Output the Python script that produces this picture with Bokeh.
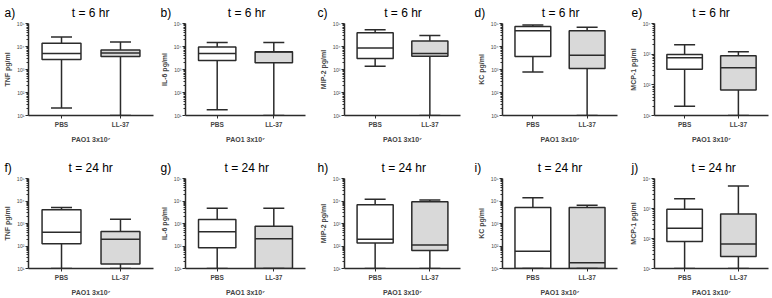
from bokeh.plotting import figure
from bokeh.models import FactorRange, Range1d, FixedTicker, ColumnDataSource
from bokeh.transform import dodge
from bokeh.layouts import row, column
from bokeh.embed import file_html
from bokeh.resources import INLINE

# ---------------- data (pg/ml) ----------------
groups = ["PBS", "LL-37"]
panel_letters = ["a)", "b)", "c)", "d)", "e)", "f)", "g)", "h)", "i)", "j)"]
time_titles = ["t = 6 hr"] * 5 + ["t = 24 hr"] * 5
cytokines = ["TNF", "IL-6", "MIP-2", "KC", "MCP-1", "TNF", "IL-6", "MIP-2", "KC", "MCP-1"]
y_top = [1e5, 1e5, 1e5, 1e5, 1e4, 1e5, 1e5, 1e5, 1e5, 1e4]

pbs_low = [21, 18, 1400, 780, 20, 10, 10, 10, 10, 10]
pbs_q1 = [2750, 2450, 3000, 3700, 320, 126, 83, 135, 10, 80]
pbs_med = [5000, 5000, 8700, 48000, 760, 410, 430, 200, 59, 220]
pbs_q3 = [13800, 9500, 40000, 74000, 980, 4100, 1500, 6900, 5200, 950]
pbs_high = [25700, 15100, 54000, 87000, 2040, 5100, 4800, 12000, 13800, 2100]

ll_low = [10, 10, 10, 10, 10, 10, 10, 10, 10, 10]
ll_q1 = [3700, 1950, 3800, 1100, 68, 16, 10, 63, 10, 25]
ll_med = [5250, 5700, 5000, 4200, 360, 200, 210, 112, 18, 66]
ll_q3 = [7100, 5900, 17400, 48000, 890, 440, 760, 9300, 5100, 650]
ll_high = [15800, 15100, 30000, 68000, 1200, 1550, 4800, 11200, 6500, 5600]

tick_values = [10, 100, 1000, 10000, 100000]
tick_texts = ["10\u00b9", "10\u00b2", "10\u00b3", "10\u2074", "10\u2075"]

# ---------------- layout ----------------
fig_widths = [157, 159, 158, 152, 146]
right_borders = [4, 11, 14, 9, 4]
letter_offsets = [-24, -25, -27, -28, -23]
LEFT = 26
FONT = "Liberation Sans"
LINE = "#2b2b2b"
TSIZE = 12.0
K = TSIZE / 1000.0  # Arial advance widths are per 1000 em


def approx_width(s):
    w = {"a": 556, "b": 556, "c": 500, "d": 556, "e": 556, "f": 278, "g": 556,
         "h": 556, "i": 222, "j": 222, ")": 333, " ": 278, "t": 278, "=": 584,
         "r": 333, "\u00a0": 278}
    return sum(w.get(ch, 556) for ch in s) * K


figs = []
for i in range(10):
    col = i % 5
    top_row = i < 5
    h = 148 if top_row else 150
    btop = 22 if top_row else 30
    bbot = h - btop - 93
    ymax = y_top[i]
    fw = fig_widths[col]
    frame_w = fw - LEFT - right_borders[col]
    p = figure(width=fw, height=h, y_axis_type="log",
               x_range=FactorRange(*groups, range_padding=0.06),
               y_range=Range1d(10, ymax),
               output_backend="svg", toolbar_location=None, tools="")
    p.min_border = 0
    p.min_border_left = LEFT
    p.min_border_right = right_borders[col]
    p.min_border_top = btop
    p.min_border_bottom = bbot
    p.outline_line_color = None
    p.xgrid.visible = False
    p.ygrid.visible = False
    p.background_fill_color = "white"
    p.border_fill_color = "white"

    src = ColumnDataSource(dict(
        g=groups,
        low=[pbs_low[i], ll_low[i]],
        q1=[pbs_q1[i], ll_q1[i]],
        med=[pbs_med[i], ll_med[i]],
        q3=[pbs_q3[i], ll_q3[i]],
        high=[pbs_high[i], ll_high[i]],
        fill=["white", "#d9d9d9"],
    ))
    p.segment(x0="g", y0="low", x1="g", y1="q1", source=src, line_color=LINE, line_width=1.5)
    p.segment(x0="g", y0="q3", x1="g", y1="high", source=src, line_color=LINE, line_width=1.5)
    p.vbar(x="g", bottom="q1", top="q3", width=0.66, source=src,
           fill_color="fill", line_color=LINE, line_width=1.5)
    p.segment(x0=dodge("g", -0.33, range=p.x_range), y0="med",
              x1=dodge("g", 0.33, range=p.x_range), y1="med",
              source=src, line_color=LINE, line_width=1.5)
    p.scatter(x="g", y="high", marker="dash", size=21, source=src, line_color=LINE, line_width=1.5)
    p.scatter(x="g", y="low", marker="dash", size=21, source=src, line_color=LINE, line_width=1.5)

    # title: panel letter + time label, using no-break spaces for the gap
    letter = panel_letters[i]
    ttl = time_titles[i]
    ttl_w = approx_width(ttl)
    t_start = frame_w / 2 - ttl_w / 2
    lx = letter_offsets[col]
    gap = t_start - (lx + approx_width(letter))
    n = max(1, int(round(gap / (278 * K))))
    p.title.text = letter + "\u00a0" * n + ttl
    p.title.align = "left"
    p.title.offset = lx
    p.title.text_font = FONT
    p.title.text_font_size = f"{TSIZE}px"
    p.title.text_font_style = "normal"
    p.title.text_color = "black"
    p.title.standoff = 7

    # y axis
    ya = p.yaxis[0]
    ya.ticker = FixedTicker(ticks=[t for t in tick_values if t <= ymax],
                            minor_ticks=[m * 10 ** k for k in range(1, 5) for m in range(2, 10)
                                         if m * 10 ** k < ymax])
    ya.major_label_overrides = {float(t): s for t, s in zip(tick_values, tick_texts)}
    ya.axis_label = cytokines[i] + " pg/ml"
    ya.axis_label_text_font = FONT
    ya.axis_label_text_font_size = "7px"
    ya.axis_label_text_font_style = "bold"
    ya.axis_label_standoff = 3
    ya.major_label_text_font = FONT
    ya.major_label_text_font_size = "5px"
    ya.major_label_standoff = 1
    ya.major_tick_out = 3
    ya.major_tick_in = 0
    ya.minor_tick_out = 2
    ya.minor_tick_in = 0
    ya.axis_line_width = 1.5
    ya.axis_line_color = LINE
    ya.major_tick_line_color = LINE
    ya.minor_tick_line_color = LINE

    xa = p.xaxis[0]
    xa.axis_label = "PAO1 3x10\u2077"
    xa.axis_label_text_font = FONT
    xa.axis_label_text_font_size = "7px"
    xa.axis_label_text_font_style = "bold"
    xa.axis_label_standoff = 5
    xa.major_label_text_font = FONT
    xa.major_label_text_font_size = "6.5px"
    xa.major_label_text_font_style = "bold"
    xa.major_label_standoff = 2
    xa.major_tick_out = 3
    xa.major_tick_in = 0
    xa.axis_line_width = 1.5
    xa.axis_line_color = LINE
    xa.major_tick_line_color = LINE
    figs.append(p)

layout = column(row(*figs[:5]), row(*figs[5:]))
open("out.html", "w").write(file_html(layout, INLINE))
